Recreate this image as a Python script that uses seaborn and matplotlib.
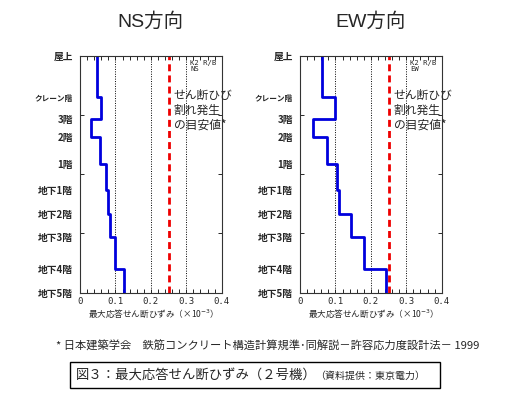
import numpy as np
import matplotlib
matplotlib.use("Agg")
import matplotlib.pyplot as plt
import seaborn as sns

# Floor levels (relative height, ticks every 1 unit) and labels
floor_labels = ["屋上", "クレーン階", "3階", "2階", "1階",
                "地下1階", "地下2階", "地下3階", "地下4階", "地下5階"]
floor_levels = [4.0, 3.30, 2.93, 2.63, 2.18, 1.73, 1.32, 0.94, 0.39, 0.0]

# Max response shear strain per story (x10^-3), top story first
ns_strain = [0.049, 0.058, 0.031, 0.056, 0.073, 0.078, 0.084, 0.100, 0.124]
ew_strain = [0.063, 0.100, 0.038, 0.077, 0.104, 0.111, 0.143, 0.182, 0.243]

crack_limit = 0.25

sns.set_style("ticks")
plt.rcParams["font.family"] = ["Noto Sans CJK JP", "DejaVu Sans"]
latin_jp = ["Liberation Sans", "Noto Sans CJK JP"]

fig = plt.figure(figsize=(5.07, 3.95), dpi=100)

W, H = 507, 395


def box(x0, y0, x1, y1):
    return [x0 / W, 1 - y1 / H, (x1 - x0) / W, (y1 - y0) / H]


panels = [
    ("NS方向", "NS", ns_strain, box(80, 56, 221.7, 292.5)),
    ("EW方向", "EW", ew_strain, box(300, 56, 441.7, 292.5)),
]

for title, tag, strain, rect in panels:
    ax = fig.add_axes(rect)
    # step profile: constant strain within each story
    xs = np.repeat(strain, 2)
    ys = np.column_stack([floor_levels[:-1], floor_levels[1:]]).ravel()
    sns.lineplot(x=xs, y=ys, sort=False, estimator=None, ax=ax,
                 color="#0000dd", lw=2)
    ax.axvline(crack_limit, color="#ee0000", lw=2, ls=(0, (2.5, 1.5)))

    ax.set_xlim(0, 0.4)
    ax.set_ylim(0, 4)
    ax.set_xticks(np.arange(0, 0.41, 0.1))
    ax.set_xticklabels(["0", "0.1", "0.2", "0.3", "0.4"],
                       family="DejaVu Sans Mono", fontsize=6.5)
    ax.set_xticks(np.arange(0, 0.401, 0.02), minor=True)
    ax.xaxis.grid(True, which="major", ls=(0, (1, 1.5)), color="k", lw=0.7)
    ax.tick_params(axis="x", which="both", direction="in", top=True,
                   bottom=True, length=3, width=0.7, pad=3)

    ax.set_yticks(floor_levels)
    ax.set_yticklabels(floor_labels, fontsize=7, fontweight="bold")
    ax.get_yticklabels()[1].set_fontsize(5.5)
    ax.set_yticks([1, 2, 3], minor=True)
    ax.tick_params(axis="y", which="major", length=0, pad=5)
    ax.tick_params(axis="y", which="minor", direction="in", left=True,
                   right=True, length=3, width=0.7)

    for s in ax.spines.values():
        s.set_linewidth(0.8)
        s.set_color("#333333")

    ax.set_xlabel("最大応答せん断ひずみ（×10$^{-3}$）", fontsize=6.2, labelpad=1)
    ax.set_ylabel("")

    ax.text(0.311, 3.93, "K2 R/B\n" + tag, family="DejaVu Sans Mono",
            fontsize=5.2, va="top", ha="left", linespacing=1.0)
    ax.text(0.264, 3.44, "せん断ひび\n割れ発生\nの目安値*", fontsize=8.5,
            va="top", ha="left", linespacing=1.2)

    cx = (rect[0] + rect[2] / 2)
    fig.text(cx, 1 - 22 / H, title, fontsize=14, family=latin_jp,
             ha="center", va="center")

fig.text(268 / W, 1 - 346 / H,
         "* 日本建築学会　鉄筋コンクリート構造計算規準･同解説－許容応力度設計法－ 1999",
         fontsize=8.1, ha="center", va="center")

fig.text(76 / W, 1 - 375.5 / H, "図３：最大応答せん断ひずみ（２号機）",
         fontsize=9.6, ha="left", va="center")
fig.text(315 / W, 1 - 376 / H, "（資料提供：東京電力）",
         fontsize=7.2, ha="left", va="center")
fig.patches.append(plt.Rectangle((70 / W, 1 - 388 / H), 370 / W, 26.5 / H,
                                 transform=fig.transFigure, fill=False,
                                 lw=1, ec="k"))

fig.savefig("out.png", dpi=100)
